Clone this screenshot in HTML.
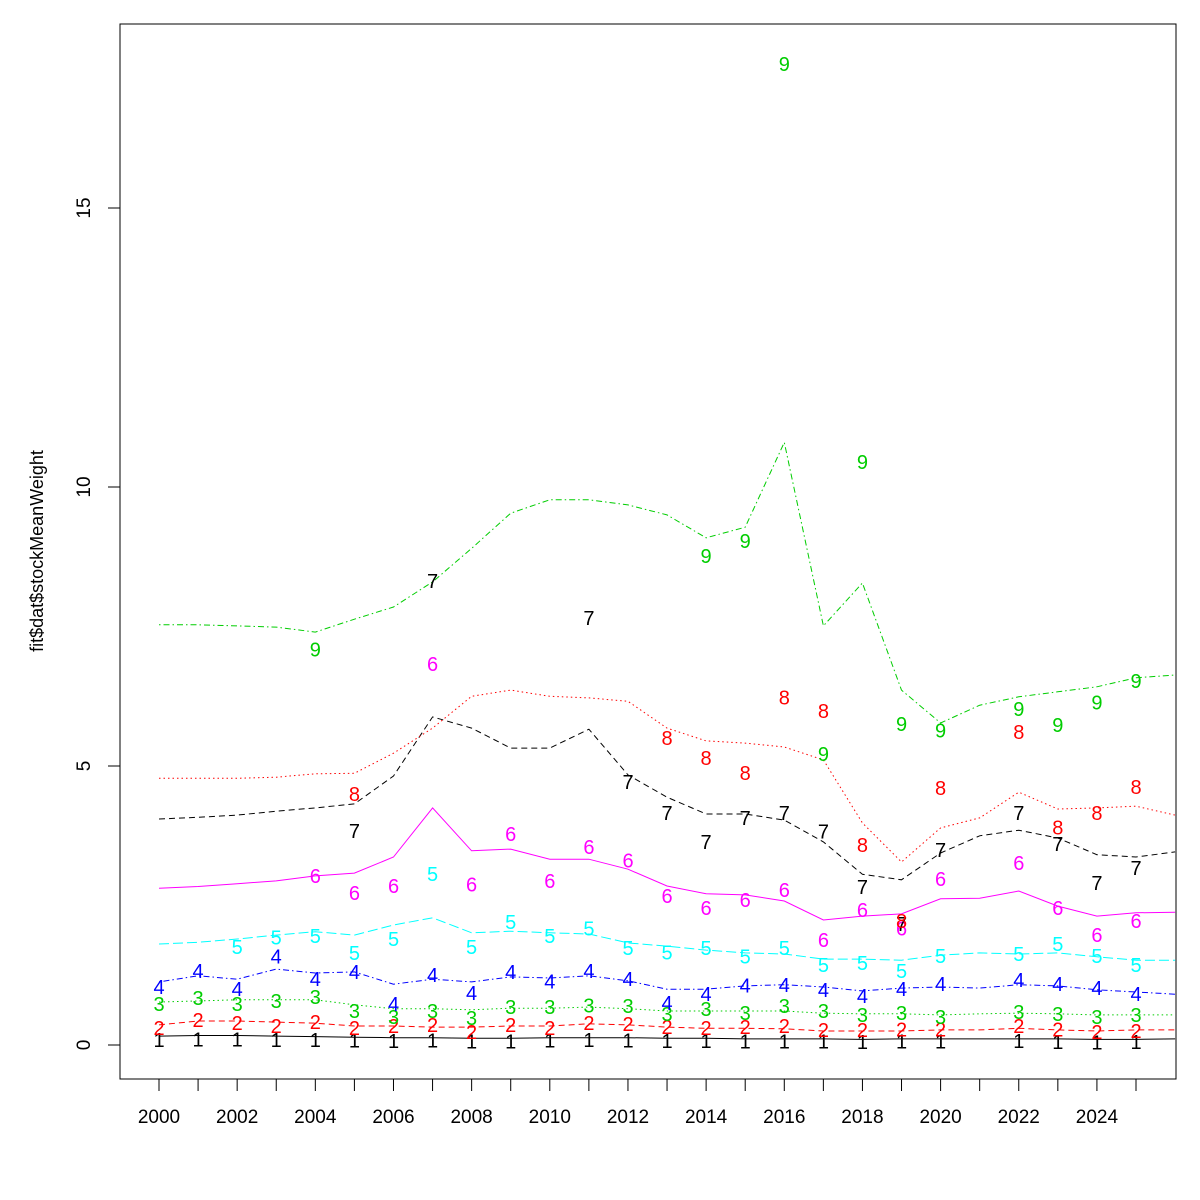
<!DOCTYPE html>
<html><head><meta charset="utf-8"><style>
html,body{margin:0;padding:0;background:#fff;}
svg{display:block;font-family:"Liberation Sans",sans-serif;}
</style></head><body>
<svg id="chart" width="1200" height="1200" viewBox="0 0 1200 1200" xmlns="http://www.w3.org/2000/svg">
<rect x="0" y="0" width="1200" height="1200" fill="#fff"/>
<g id="lines"></g>
<g id="points"></g>
<rect x="120" y="24" width="1056" height="1055" fill="none" stroke="#000" stroke-width="1"/>
<g id="xaxis"></g>
<g id="yaxis"></g>
<text x="43" y="551" font-size="18" text-anchor="middle" transform="rotate(-90 43 551)">fit$dat$stockMeanWeight</text>
</svg>
<script>
const years = [2000,2001,2002,2003,2004,2005,2006,2007,2008,2009,2010,2011,2012,2013,2014,2015,2016,2017,2018,2019,2020,2021,2022,2023,2024,2025,2026];
const xTicks = [2000,2001,2002,2003,2004,2005,2006,2007,2008,2009,2010,2011,2012,2013,2014,2015,2016,2017,2018,2019,2020,2021,2022,2023,2024,2025];
const xTickLabels = [2000,2002,2004,2006,2008,2010,2012,2014,2016,2018,2020,2022,2024];
const yTicks = [0,5,10,15];
const fit1 = [0.16,0.17,0.17,0.16,0.15,0.14,0.13,0.13,0.12,0.12,0.13,0.13,0.13,0.12,0.12,0.11,0.11,0.11,0.10,0.11,0.11,0.11,0.11,0.11,0.10,0.10,0.11];
const fit2 = [0.36,0.43,0.43,0.41,0.39,0.34,0.34,0.32,0.32,0.34,0.34,0.38,0.36,0.32,0.30,0.30,0.29,0.25,0.25,0.25,0.27,0.27,0.30,0.27,0.25,0.27,0.27];
const fit3 = [0.77,0.79,0.81,0.81,0.81,0.72,0.65,0.65,0.63,0.66,0.66,0.68,0.65,0.61,0.61,0.61,0.61,0.57,0.56,0.56,0.54,0.56,0.57,0.56,0.54,0.54,0.54];
const fit4 = [1.13,1.24,1.18,1.36,1.29,1.31,1.09,1.18,1.13,1.22,1.20,1.24,1.15,1.00,1.00,1.06,1.08,1.04,0.97,1.02,1.04,1.02,1.08,1.06,0.99,0.95,0.91];
const fit5 = [1.81,1.84,1.90,1.97,2.03,1.97,2.15,2.28,2.01,2.04,2.01,1.99,1.83,1.77,1.70,1.65,1.63,1.54,1.54,1.52,1.61,1.65,1.63,1.65,1.58,1.52,1.52];
const fit6 = [2.81,2.84,2.89,2.94,3.03,3.08,3.37,4.25,3.48,3.51,3.33,3.33,3.15,2.85,2.71,2.69,2.58,2.24,2.31,2.35,2.62,2.63,2.76,2.49,2.31,2.37,2.38];
const fit7 = [4.05,4.08,4.12,4.19,4.25,4.32,4.82,5.88,5.68,5.32,5.32,5.66,4.84,4.44,4.14,4.14,4.03,3.64,3.06,2.96,3.44,3.75,3.85,3.71,3.41,3.37,3.46];
const fit8 = [4.78,4.78,4.78,4.80,4.86,4.87,5.23,5.68,6.25,6.36,6.25,6.22,6.16,5.68,5.45,5.41,5.34,5.11,3.98,3.28,3.89,4.07,4.53,4.23,4.25,4.28,4.12];
const fit9 = [7.53,7.53,7.51,7.49,7.40,7.63,7.85,8.30,8.90,9.53,9.77,9.77,9.68,9.50,9.09,9.28,10.80,7.51,8.28,6.36,5.77,6.09,6.24,6.33,6.42,6.58,6.63];
const obs1 = [0.11,0.12,0.12,0.11,0.11,0.10,0.09,0.10,0.08,0.08,0.10,0.11,0.10,0.09,0.09,0.08,0.08,0.08,0.07,0.08,0.08,null,0.09,0.07,0.06,0.07];
const obs2 = [0.32,0.47,0.41,0.36,0.43,0.32,0.36,0.38,0.25,0.38,0.32,0.41,0.39,0.34,0.32,0.34,0.36,0.29,0.29,0.30,0.30,null,0.36,0.30,0.25,0.27];
const obs3 = [0.75,0.86,0.75,0.81,0.88,0.63,0.52,0.63,0.50,0.70,0.70,0.73,0.72,0.57,0.66,0.59,0.72,0.63,0.56,0.59,0.52,null,0.61,0.57,0.52,0.56];
const obs4 = [1.06,1.34,1.02,1.60,1.20,1.33,0.75,1.27,0.95,1.33,1.16,1.34,1.20,0.77,0.93,1.08,1.09,1.00,0.90,1.02,1.11,null,1.18,1.11,1.04,0.93];
const obs5 = [null,null,1.77,1.94,1.97,1.67,1.92,3.08,1.77,2.22,1.97,2.11,1.76,1.68,1.76,1.60,1.76,1.45,1.49,1.34,1.61,null,1.65,1.83,1.61,1.45];
const obs6 = [null,null,null,null,3.05,2.74,2.87,6.85,2.89,3.80,2.96,3.57,3.32,2.69,2.47,2.62,2.80,1.90,2.44,2.11,2.99,null,3.28,2.47,1.99,2.24];
const obs7 = [null,null,null,null,null,3.85,null,8.33,null,null,null,7.67,4.73,4.18,3.66,4.09,4.18,3.84,2.85,2.19,3.51,null,4.18,3.62,2.92,3.19];
const obs8 = [null,null,null,null,null,4.52,null,null,null,null,null,null,null,5.52,5.16,4.89,6.25,6.00,3.60,2.24,4.62,null,5.63,3.92,4.18,4.64];
const obs9 = [null,null,null,null,7.11,null,null,null,null,null,null,null,null,null,8.78,9.05,17.6,5.23,10.47,5.77,5.65,null,6.04,5.75,6.16,6.54];

const fits=[fit1,fit2,fit3,fit4,fit5,fit6,fit7,fit8,fit9];
const obss=[obs1,obs2,obs3,obs4,obs5,obs6,obs7,obs8,obs9];
const cols=['#000','#ff0000','#00cd00','#0000ff','#00ffff','#ff00ff','#000','#ff0000','#00cd00'];
const dashes=['','6,4','1.5,3','1.5,3,6,3','10,4','','6,4','1.5,3','1.5,3,6,3'];
const NS='http://www.w3.org/2000/svg';
function xs(v){return 159+(v-2000)*39.08;}
function ys(v){return 1045-v*55.8;}
const gl=document.getElementById('lines'),gp=document.getElementById('points');
fits.forEach((f,i)=>{
  const p=document.createElementNS(NS,'polyline');
  p.setAttribute('points',f.map((v,j)=>xs(years[j]).toFixed(1)+','+ys(v).toFixed(1)).join(' '));
  p.setAttribute('fill','none');p.setAttribute('stroke',cols[i]);p.setAttribute('stroke-width','1');
  if(dashes[i])p.setAttribute('stroke-dasharray',dashes[i]);
  
  
  gl.appendChild(p);
});
obss.forEach((o,i)=>{
  o.forEach((v,j)=>{
    if(v===null)return;
    const t=document.createElementNS(NS,'text');
    t.setAttribute('x',xs(years[j]).toFixed(1));t.setAttribute('y',(ys(v)+8).toFixed(1));
    t.setAttribute('text-anchor','middle');t.setAttribute('font-size','20');t.setAttribute('fill',cols[i]);
    t.textContent=String(i+1);
    
    
    gp.appendChild(t);
  });
});
const gx=document.getElementById('xaxis');
xTicks.forEach(v=>{
  const l=document.createElementNS(NS,'line');
  l.setAttribute('x1',xs(v));l.setAttribute('x2',xs(v));l.setAttribute('y1',1079);l.setAttribute('y2',1091);l.setAttribute('stroke','#000');
  
  
  gx.appendChild(l);
});
xTickLabels.forEach(v=>{
  const t=document.createElementNS(NS,'text');
  t.setAttribute('x',xs(v));t.setAttribute('y',1123);t.setAttribute('text-anchor','middle');t.setAttribute('font-size','19');
  t.textContent=String(v);
  
  
  gx.appendChild(t);
});
const gy=document.getElementById('yaxis');
yTicks.forEach(v=>{
  const l=document.createElementNS(NS,'line');
  l.setAttribute('x1',108);l.setAttribute('x2',120);l.setAttribute('y1',ys(v));l.setAttribute('y2',ys(v));l.setAttribute('stroke','#000');
  
  
  gy.appendChild(l);
  const t=document.createElementNS(NS,'text');
  const y=ys(v);
  t.setAttribute('x',90);t.setAttribute('y',y);t.setAttribute('text-anchor','middle');t.setAttribute('font-size','19');
  t.setAttribute('transform','rotate(-90 90 '+y+')');
  t.textContent=String(v);
  
  
  gy.appendChild(t);
});
</script>
</body></html>
